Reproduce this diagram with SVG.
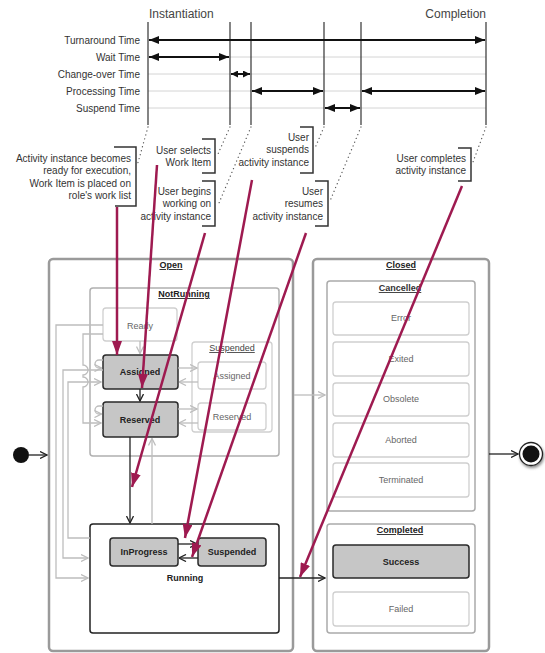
<svg xmlns="http://www.w3.org/2000/svg" width="545" height="653" viewBox="0 0 545 653">
<defs>
<style>
text{font-family:"Liberation Sans",Arial,sans-serif}
.hd{font-size:12px;fill:#444}
.lbl{font-size:10px;fill:#333;text-anchor:end}
.ann{font-size:10px;fill:#333;text-anchor:end}
.b9{font-size:9px;font-weight:bold;fill:#222;text-anchor:middle}
.u{text-decoration:underline}
.n9{font-size:9px;fill:#666;text-anchor:middle}
.act{fill:#c6c6c6;stroke:#2a2a2a;stroke-width:1.5}
.ina{fill:#fff;stroke:#cfcfcf;stroke-width:1.3}
.cont{fill:none;stroke:#b0b0b0;stroke-width:1.5}
.outer{fill:#fff;stroke:#9a9a9a;stroke-width:2.5}
.row{stroke:#d4d4d4;stroke-width:1}
.vl{stroke:#333;stroke-width:1.2}
.ta{stroke:#111;stroke-width:2;marker-start:url(#tl);marker-end:url(#tl)}
.tas{stroke:#111;stroke-width:2;marker-start:url(#tls);marker-end:url(#tls)}
.dot{stroke:#555;stroke-width:1.3;stroke-dasharray:0.1 4;stroke-linecap:round;fill:none}
.br{stroke:#333;stroke-width:1.5;fill:none}
.gl{stroke:#bdbdbd;stroke-width:1.3;fill:none}
.ga{marker-end:url(#gry)}
.bl{stroke:#222;stroke-width:1.3;fill:none;marker-end:url(#blk)}
.mag{stroke:#9e1a50;stroke-width:2.5;fill:none;marker-end:url(#mg)}
</style>
<marker id="tl" viewBox="0 0 10 8" refX="10" refY="4" markerWidth="10" markerHeight="8" markerUnits="userSpaceOnUse" orient="auto-start-reverse"><path d="M0,0 L10,4 L0,8 z" fill="#111"/></marker>
<marker id="tls" viewBox="0 0 7 7" refX="7" refY="3.5" markerWidth="7" markerHeight="7" markerUnits="userSpaceOnUse" orient="auto-start-reverse"><path d="M0,0 L7,3.5 L0,7 z" fill="#111"/></marker>
<marker id="mg" viewBox="0 0 14 10" refX="14" refY="5" markerWidth="14" markerHeight="10" markerUnits="userSpaceOnUse" orient="auto"><path d="M0,0 L14,5 L0,10 z" fill="#9e1a50"/></marker>
<marker id="blk" viewBox="0 0 8 8" refX="7.5" refY="4" markerWidth="8" markerHeight="8" markerUnits="userSpaceOnUse" orient="auto"><path d="M0.5,0.5 L7.5,4 L0.5,7.5" fill="none" stroke="#222" stroke-width="1.3"/></marker>
<marker id="gry" viewBox="0 0 8 8" refX="7.5" refY="4" markerWidth="8" markerHeight="8" markerUnits="userSpaceOnUse" orient="auto"><path d="M0.5,0.5 L7.5,4 L0.5,7.5" fill="none" stroke="#bdbdbd" stroke-width="1.3"/></marker>
<filter id="sh" x="-50%" y="-50%" width="200%" height="200%"><feGaussianBlur stdDeviation="1.5"/></filter>
</defs>
<rect width="545" height="653" fill="#fff"/>

<!-- Timeline -->
<g id="timeline">
<text class="hd" x="149" y="18">Instantiation</text>
<text class="hd" x="486" y="18" text-anchor="end">Completion</text>
<line class="row" x1="148" y1="40" x2="486" y2="40"/>
<line class="row" x1="148" y1="57" x2="486" y2="57"/>
<line class="row" x1="148" y1="74" x2="486" y2="74"/>
<line class="row" x1="148" y1="91" x2="486" y2="91"/>
<line class="row" x1="148" y1="108" x2="486" y2="108"/>
<line class="vl" x1="148" y1="22" x2="148" y2="125"/>
<line class="vl" x1="230" y1="22" x2="230" y2="125"/>
<line class="vl" x1="251" y1="22" x2="251" y2="125"/>
<line class="vl" x1="324" y1="22" x2="324" y2="125"/>
<line class="vl" x1="361" y1="22" x2="361" y2="125"/>
<line class="vl" x1="486" y1="22" x2="486" y2="125"/>
<text class="lbl" x="140" y="43.5">Turnaround Time</text>
<text class="lbl" x="140" y="60.5">Wait Time</text>
<text class="lbl" x="140" y="77.5">Change-over Time</text>
<text class="lbl" x="140" y="94.5">Processing Time</text>
<text class="lbl" x="140" y="111.5">Suspend Time</text>
<line class="ta" x1="149" y1="40" x2="485" y2="40"/>
<line class="ta" x1="149" y1="57" x2="229" y2="57"/>
<line class="tas" x1="231" y1="74" x2="250" y2="74"/>
<line class="ta" x1="252" y1="91" x2="323" y2="91"/>
<line class="ta" x1="362" y1="91" x2="485" y2="91"/>
<line class="ta" x1="325" y1="108" x2="360" y2="108"/>
</g>

<!-- Annotations -->
<g id="annotations">
<path class="dot" d="M148,127 L137,166"/>
<path class="dot" d="M230,127 L218,154"/>
<path class="dot" d="M251,127 L219,203"/>
<path class="dot" d="M324,127 L315,148"/>
<path class="dot" d="M361,127 L330,201"/>
<path class="dot" d="M486,127 L473,162"/>
<g id="ann1">
<path class="br" d="M114,147 H136 V206 H115"/>
<text class="ann" x="131" y="161.5">Activity instance becomes</text>
<text class="ann" x="131" y="174">ready for execution,</text>
<text class="ann" x="131" y="186.5">Work Item is placed on</text>
<text class="ann" x="131" y="199">role's work list</text>
</g>
<g id="ann2">
<path class="br" d="M202,139 H215 V173 H202"/>
<text class="ann" x="211" y="153.5">User selects</text>
<text class="ann" x="211" y="166">Work Item</text>
</g>
<g id="ann3">
<path class="br" d="M202,181 H215 V226 H202"/>
<text class="ann" x="211" y="194.5">User begins</text>
<text class="ann" x="211" y="207">working on</text>
<text class="ann" x="211" y="219.5">activity instance</text>
</g>
<g id="ann4">
<path class="br" d="M300,127 H313 V173 H300"/>
<text class="ann" x="309" y="140.5">User</text>
<text class="ann" x="309" y="153">suspends</text>
<text class="ann" x="309" y="165.5">activity instance</text>
</g>
<g id="ann5">
<path class="br" d="M315,181 H328 V226 H315"/>
<text class="ann" x="323" y="194.5">User</text>
<text class="ann" x="323" y="207">resumes</text>
<text class="ann" x="323" y="219.5">activity instance</text>
</g>
<g id="ann6">
<path class="br" d="M458,148 H471 V181 H458"/>
<text class="ann" x="466" y="161.5">User completes</text>
<text class="ann" x="466" y="174">activity instance</text>
</g>
</g>

<!-- States -->
<g id="Open">
<rect class="outer" x="49" y="259" width="244" height="392" rx="4"/>
<text class="b9 u" x="171" y="268">Open</text>
</g>
<g id="Closed">
<rect class="outer" x="313" y="259" width="176" height="392" rx="4"/>
<text class="b9 u" x="401" y="268">Closed</text>
</g>
<g id="NotRunning">
<rect class="cont" x="90" y="288" width="189" height="168" rx="3"/>
<text class="b9 u" x="184" y="297">NotRunning</text>
</g>
<g id="Ready">
<rect class="ina" x="103" y="308" width="74" height="33" rx="3"/>
<text class="n9" x="140" y="329">Ready</text>
</g>
<g id="Assigned">
<rect class="act" x="103" y="355" width="75" height="34" rx="3"/>
<text class="b9" x="140" y="375">Assigned</text>
</g>
<g id="Reserved">
<rect class="act" x="103" y="402" width="75" height="35" rx="3"/>
<text class="b9" x="140" y="423">Reserved</text>
</g>
<g id="SuspendedNR">
<rect class="ina" x="192" y="342" width="80" height="90" rx="3" style="fill:none"/>
<text class="n9 u" x="232" y="351" style="fill:#444">Suspended</text>
</g>
<g id="SuspAssigned">
<rect class="ina" x="198" y="362" width="68" height="27" rx="3"/>
<text class="n9" x="232" y="379">Assigned</text>
</g>
<g id="SuspReserved">
<rect class="ina" x="198" y="403" width="68" height="27" rx="3"/>
<text class="n9" x="232" y="420">Reserved</text>
</g>
<g id="Running">
<rect x="90" y="524" width="189" height="109" rx="3" fill="#fff" stroke="#222" stroke-width="1.5"/>
<text class="b9" x="185" y="581">Running</text>
</g>
<g id="InProgress">
<rect class="act" x="110" y="538" width="68" height="28" rx="3"/>
<text class="b9" x="144" y="555">InProgress</text>
</g>
<g id="Suspended">
<rect class="act" x="198" y="538" width="68" height="28" rx="3"/>
<text class="b9" x="232" y="555">Suspended</text>
</g>
<g id="Cancelled">
<rect class="cont" x="327" y="281" width="148" height="230" rx="3" style="stroke:#aaa"/>
<text class="b9 u" x="400" y="291" style="fill:#333">Cancelled</text>
</g>
<g id="Error"><rect class="ina" x="333" y="302" width="136" height="33" rx="3"/><text class="n9" x="401" y="321">Error</text></g>
<g id="Exited"><rect class="ina" x="333" y="342" width="136" height="34" rx="3"/><text class="n9" x="401" y="362">Exited</text></g>
<g id="Obsolete"><rect class="ina" x="333" y="383" width="136" height="33" rx="3"/><text class="n9" x="401" y="402">Obsolete</text></g>
<g id="Aborted"><rect class="ina" x="333" y="423" width="136" height="34" rx="3"/><text class="n9" x="401" y="443">Aborted</text></g>
<g id="Terminated"><rect class="ina" x="333" y="463" width="136" height="34" rx="3"/><text class="n9" x="401" y="483">Terminated</text></g>
<g id="Completed">
<rect class="cont" x="327" y="524" width="148" height="109" rx="3" style="stroke:#aaa"/>
<text class="b9 u" x="400" y="533">Completed</text>
</g>
<g id="Success"><rect class="act" x="333" y="545" width="136" height="33" rx="3"/><text class="b9" x="401" y="565">Success</text></g>
<g id="Failed"><rect class="ina" x="333" y="592" width="136" height="34" rx="3"/><text class="n9" x="401" y="612">Failed</text></g>
<g id="Initial"><circle cx="21" cy="455" r="8" fill="#111"/></g>
<g id="Final">
<circle cx="532" cy="456" r="12" fill="#888" filter="url(#sh)"/>
<circle cx="531" cy="454" r="11.5" fill="#fff" stroke="#222" stroke-width="1.3"/>
<circle cx="531" cy="454" r="8.5" fill="#111"/>
</g>

<!-- Connectors -->
<g id="connectors">
<path class="gl ga" d="M103,325 H56 V578 H88"/>
<path class="gl ga" d="M103,370 H63 V558 H88"/>
<path class="gl ga" d="M90,538 H68 V382 H101"/>
<path class="gl ga" d="M103,334 H83 V365 a5,5 0 0 1 0,10 V377 a5,5 0 0 1 0,10 V423 H101"/>
<path class="gl ga" d="M103,360 H99 a4,4 0 0 0 0,8 H101.5"/>
<path class="gl ga" d="M103,406 H99 a4,4 0 0 0 0,8 H101.5"/>
<path class="gl ga" d="M140,341 V353.5"/>
<path class="gl ga" d="M178,368 H197"/>
<path class="gl ga" d="M198,382 H179"/>
<path class="gl ga" d="M178,409 H197"/>
<path class="gl ga" d="M198,423 H179"/>
<path class="gl ga" d="M152,524 V438.5"/>
<path class="gl ga" d="M294,395 H325"/>
<path class="bl" d="M29,455 H47"/>
<path class="bl" d="M140,389 V401"/>
<path class="bl" d="M130,437 V523"/>
<path class="bl" d="M178,544 H197"/>
<path class="bl" d="M198,558 H179"/>
<path class="bl" d="M279,578 H325"/>
<path class="bl" d="M489,454 H518"/>
<path class="mag" d="M117,207 V355"/>
<path class="mag" d="M157,165 L142,388"/>
<path class="mag" d="M205,233 L132,487"/>
<path class="mag" d="M252,180 L185,538"/>
<path class="mag" d="M306,233 L192,557"/>
<path class="mag" d="M462,186 L300,577"/>
</g>
</svg>
